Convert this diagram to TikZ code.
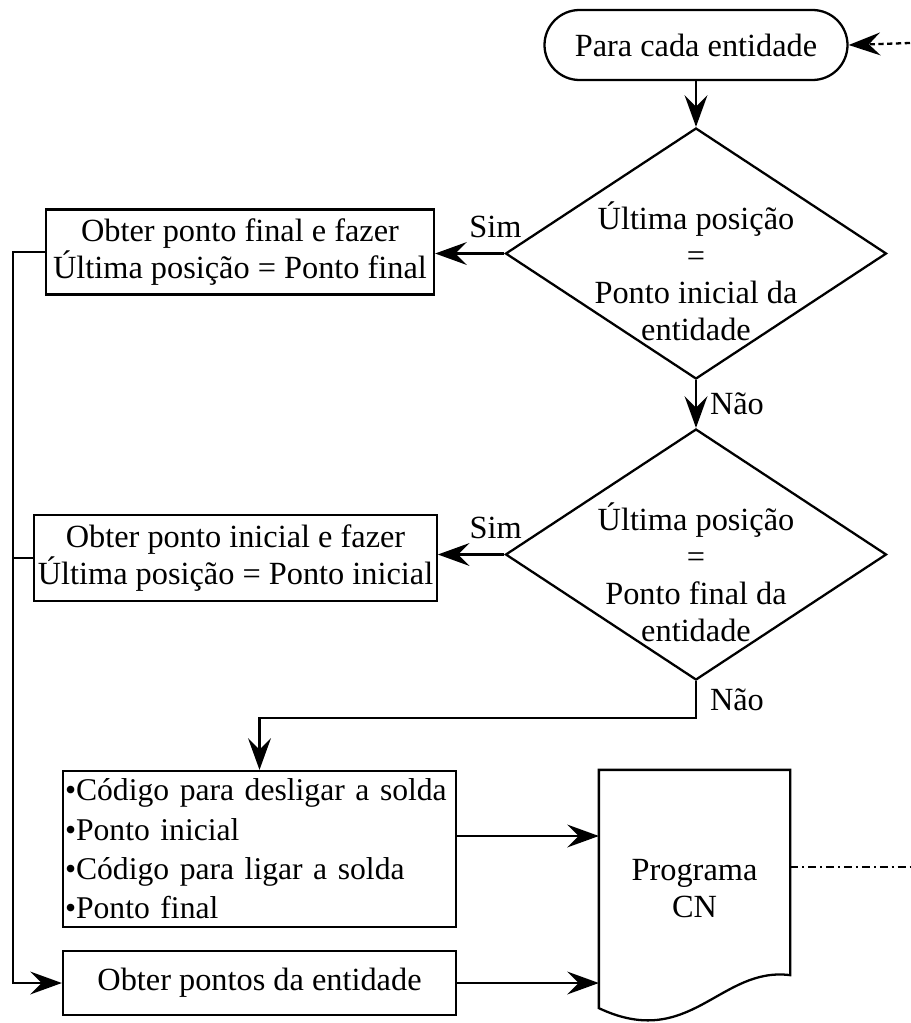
\documentclass[tikz,border=0pt]{standalone}
\usepackage{fontspec}
\setmainfont{Liberation Serif}
\usetikzlibrary{arrows.meta,shapes.geometric,calc}

\begin{document}
\begin{tikzpicture}[>={Stealth[length=18pt,width=13pt,inset=6.5pt]},line width=1.3pt,
  every node/.style={align=center,font=\fontsize{18.4}{21}\selectfont},
  proc/.style={draw,inner sep=2pt,minimum height=1.7cm},
  decision/.style={draw,diamond,inner sep=0pt,minimum width=7.62cm,minimum height=5.02cm},
  startstop/.style={draw,rounded corners=0.7cm,minimum width=6.06cm,minimum height=1.4cm}]
\useasboundingbox (0,0) rectangle (18.2,-20.46);
\coordinate (rim) at (18.2,0);
\node[startstop] (term) at (13.92,-0.9) {Para cada entidade};
\node[decision] (d1) at (13.92,-5.07) {};
\node (d1txt) at ([yshift=-0.36cm]d1) {Última posição\\=\\Ponto inicial da\\entidade};
\node[decision] (d2) at (13.92,-11.09) {};
\node (d2txt) at ([yshift=-0.35cm]d2) {Última posição\\=\\Ponto final da\\entidade};
\node[proc,minimum width=7.76cm] (b1) at (4.8,-5.04) {Obter ponto final e fazer\\Última posição = Ponto final};
\node[proc,minimum width=7.94cm,minimum height=1.72cm] (b2) at (4.71,-11.16) {Obter ponto inicial e fazer\\Última posição = Ponto inicial};
\node[proc,align=left,text width=7.78cm,inner xsep=0.04cm,minimum height=3.12cm,
  font=\fontsize{18}{22.4}\selectfont] (b3) at (5.19,-16.98)
  {•Código para desligar a solda\\•Ponto inicial\\•Código para ligar a solda\\•Ponto final};
\node[proc,minimum width=7.86cm,minimum height=1.28cm] (b4) at (5.19,-19.66) {Obter pontos da entidade};
\node[minimum width=3.78cm,minimum height=4.72cm,inner sep=0pt] (doc) at (13.89,-17.78) {Programa\\CN};
% document symbol
\draw (doc.south west) -- (doc.north west) -- (doc.north east) -- ($(doc.south east)+(0,0.66)$)
  .. controls ($(doc.south)+(0.51,0.84)$) and ($(doc.south)+(-0.09,-0.86)$) .. (doc.south west) -- cycle;
% flow
\coordinate (feed) at (18.2,-0.86);
\draw[->,dash pattern=on 3pt off 2pt] (feed) -- (term.east);
\draw[->] (term) -- (d1);
\draw[->] (d1.west) -- node[pos=0.13,above=5pt] {Sim} (d1.west -| b1.east);
\draw[->] (d1.south) -- node[right=4pt] {Não} (d2.north);
\draw[->] (d2.west) -- node[pos=0.13,above=5pt] {Sim} (d2.west -| b2.east);
\draw[->] (d2.south) -- node[right=4pt] {Não} ++(0,-0.74) -| (b3.north);
\draw[->] (b1.west) -- ++(-0.64,0) coordinate (spine) |- (b4.west);
\draw (b2.west) -- (b2.west -| spine);
\coordinate (b3out) at ([yshift=0.26cm]b3.east);
\draw[->] (b3out) -- (b3out -| doc.west);
\draw[->] (b4.east) -- (b4.east -| doc.west);
\coordinate (cnout) at ([yshift=0.44cm]doc.east);
\draw[dash pattern=on 4.5pt off 2.3pt on 1.1pt off 2.3pt] (cnout) -- (cnout -| rim);
\end{tikzpicture}
\end{document}
